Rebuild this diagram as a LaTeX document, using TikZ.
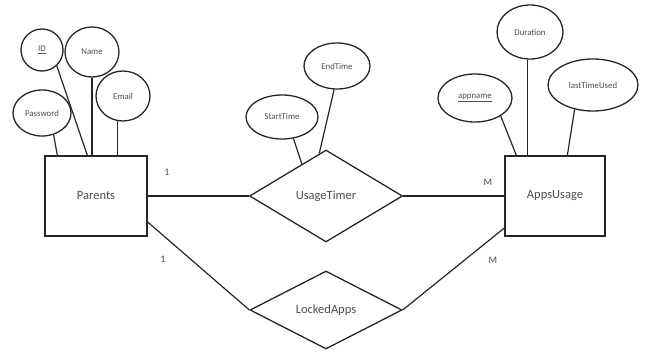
\documentclass[tikz,border=0pt]{standalone}
\usepackage{fontspec}
\setmainfont{Carlito}
\usetikzlibrary{shapes.geometric}
\begin{document}
\begin{tikzpicture}[x=1pt,y=-1pt,
  conn/.style={line width=1.2pt, draw=black!85},
  entity/.style={draw=black!85, rectangle, line width=1.3pt, text=black!70, font=\fontsize{12.5}{14}\selectfont, inner sep=0pt},
  attr/.style={draw=black!85, ellipse, line width=1.3pt, text=black!70, font=\fontsize{8.8}{10}\selectfont, inner sep=0pt},
  rel/.style={draw=black!85, diamond, line width=1.3pt, text=black!70, font=\fontsize{12.5}{14}\selectfont, inner sep=0pt},
  card/.style={text=black!70, font=\fontsize{10}{12}\selectfont, inner sep=0pt}]
\useasboundingbox (0,0) rectangle (648,356);
% entities
\node[entity, minimum width=102pt, minimum height=80pt] (Parents) at (96,196) {Parents};
\node[entity, minimum width=100pt, minimum height=80pt] (Apps) at (555,196) {AppsUsage};
% relationships
\node[rel, minimum width=153pt, minimum height=92pt] (UT) at (326,196) {UsageTimer};
\node[rel, minimum width=152pt, minimum height=78pt] (LA) at (326,310) {LockedApps};
% attributes of Parents
\node[attr, minimum width=42pt, minimum height=42pt] (ID) at (42,50) {\underline{ID}};
\node[attr, minimum width=54pt, minimum height=50pt] (Name) at (92,52) {Name};
\node[attr, minimum width=54pt, minimum height=50pt] (Email) at (123,96) {Email};
\node[attr, minimum width=58pt, minimum height=46pt] (Pw) at (42,113) {Password};
% attributes of UsageTimer
\node[attr, minimum width=72pt, minimum height=44pt] (ST) at (282,117) {StartTime};
\node[attr, minimum width=66pt, minimum height=46pt] (ET) at (337,66) {EndTime};
% attributes of AppsUsage
\node[attr, minimum width=74pt, minimum height=48pt] (App) at (475,98) {\underline{appname}};
\node[attr, minimum width=66pt, minimum height=54pt] (Dur) at (530,32) {Duration};
\node[attr, minimum width=90pt, minimum height=52pt] (LTU) at (593,85) {lastTimeUsed};
% attribute connectors
\draw[conn] (Pw.-62) -- ([xshift=13pt]Parents.north west);
\draw[conn] (ID.-47) -- ([xshift=43pt]Parents.north west);
\draw[conn] (Name.south) -- (Name.south |- Parents.north);
\draw[conn] (Email.257) -- (Email.257 |- Parents.north);
\draw[conn] (ST.-62) -- (UT.127);
\draw[conn] (ET.263) -- (UT.99);
\draw[conn] (App.-35) -- ([xshift=12pt]Apps.north west);
\draw[conn] (Dur.265) -- (Dur.265 |- Apps.north);
\draw[conn] (LTU.233) -- ([xshift=63pt]Apps.north west);
% relationship connectors
\draw[conn] (Parents.east) -- (UT.west);
\draw[conn] (UT.east) -- (Apps.west);
\draw[conn] ([yshift=-26pt]Parents.east) -- (LA.west);
\draw[conn] ([yshift=-32pt]Apps.west) -- (LA.east);
% cardinalities
\node[card] (c1) at (167,172) {1};
\node[card] (c2) at (488,182) {M};
\node[card] (c3) at (163,259) {1};
\node[card] (c4) at (493,260) {M};
\end{tikzpicture}
\end{document}
